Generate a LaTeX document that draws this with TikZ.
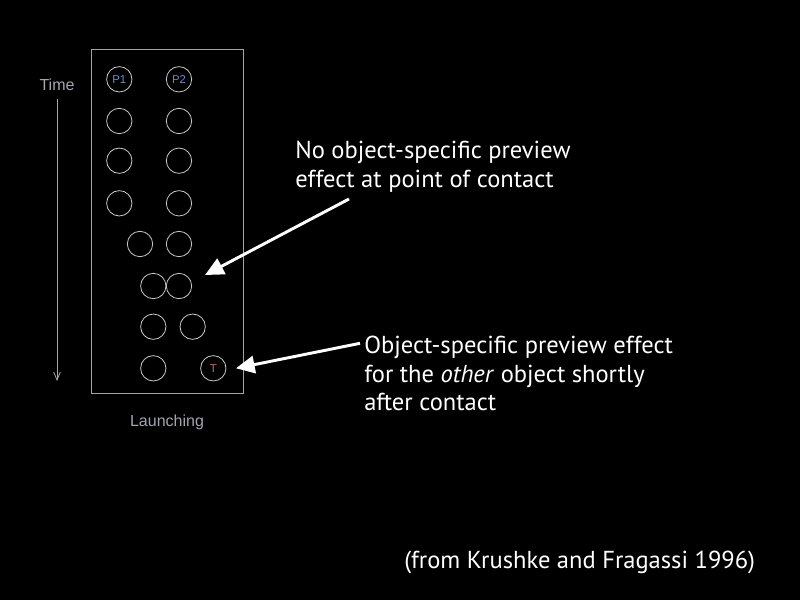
\documentclass[tikz,border=0pt]{standalone}
\usepackage{fontspec}
\setmainfont{PT Sans}
\newfontfamily\arialfont{Liberation Sans}
\usetikzlibrary{arrows.meta}
\definecolor{boxgray}{RGB}{165,165,165}
\definecolor{circgray}{RGB}{200,200,200}
\definecolor{labgray}{RGB}{160,165,175}
\begin{document}
\begin{tikzpicture}[x=0.75pt,y=-0.75pt,
  ball/.style={circle,draw=circgray,line width=0.6pt,minimum size=19pt,inner sep=0pt,
    font=\arialfont\fontsize{8.5}{8.5}\selectfont},
  caption/.style={text=white,font=\fontsize{18.4}{22}\selectfont,anchor=base west,inner sep=0pt},
  small/.style={text=labgray,font=\arialfont\fontsize{12}{14}\selectfont,inner sep=0pt},
  pointer/.style={draw=white,line width=2.2pt,-{Triangle[length=14pt,width=13pt]}}]
\fill[black] (0,0) rectangle (800,600);
\useasboundingbox (0,0) rectangle (800,600);
% frame
\node[draw=boxgray,line width=0.6pt,minimum width=113.5pt,minimum height=258pt,inner sep=0pt] (frame) at (167.3,221.2) {};
% time axis
\node[small] (time) at (57,85) {Time};
\coordinate (tstart) at (57,99);
\coordinate (tend) at (57,381);
\draw[boxgray,line width=0.6pt,-{Straight Barb[length=6pt,width=5pt]}] (tstart) -- (tend);
\node[small] (launch) at (167,422) {Launching};
% circles
\node[ball,text={rgb,255:red,110;green,140;blue,200}] (a1) at (119.3,79.3) {P1};
\node[ball,text={rgb,255:red,110;green,140;blue,200}] (b1) at (179,79.3) {P2};
\node[ball] (a2) at (119.3,121) {};
\node[ball] (b2) at (179,121) {};
\node[ball] (a3) at (119.3,160.7) {};
\node[ball] (b3) at (179,160.7) {};
\node[ball] (a4) at (119.3,203.3) {};
\node[ball] (b4) at (179,203.3) {};
\node[ball] (a5) at (140,244) {};
\node[ball] (b5) at (179,244) {};
\node[ball] (a6) at (153.3,286) {};
\node[ball] (b6) at (179,286) {};
\node[ball] (a7) at (153.3,326.7) {};
\node[ball] (b7) at (192.7,326.7) {};
\node[ball] (a8) at (153.3,368.3) {};
\node[ball,text={rgb,255:red,200;green,110;blue,100}] (b8) at (213.3,368.3) {T};
% captions
\node[caption] (c1a) at (295,158) {No object-specific preview};
\node[caption] (c1b) at (295,187) {effect at point of contact};
\node[caption] (c2a) at (364,353) {Object-specific preview effect};
\node[caption] (c2b) at (364,382) {for the \textit{other} object shortly};
\node[caption] (c2c) at (364,410) {after contact};
\node[caption] (src) at (404,568) {(from Krushke and Fragassi 1996)};
% pointers
\coordinate (p1s) at (349,199);
\coordinate (p1e) at (205,275);
\coordinate (p2s) at (360,343.3);
\coordinate (p2e) at (236,368.3);
\draw[pointer] (p1s) -- (p1e);
\draw[pointer] (p2s) -- (p2e);
\end{tikzpicture}
\end{document}
